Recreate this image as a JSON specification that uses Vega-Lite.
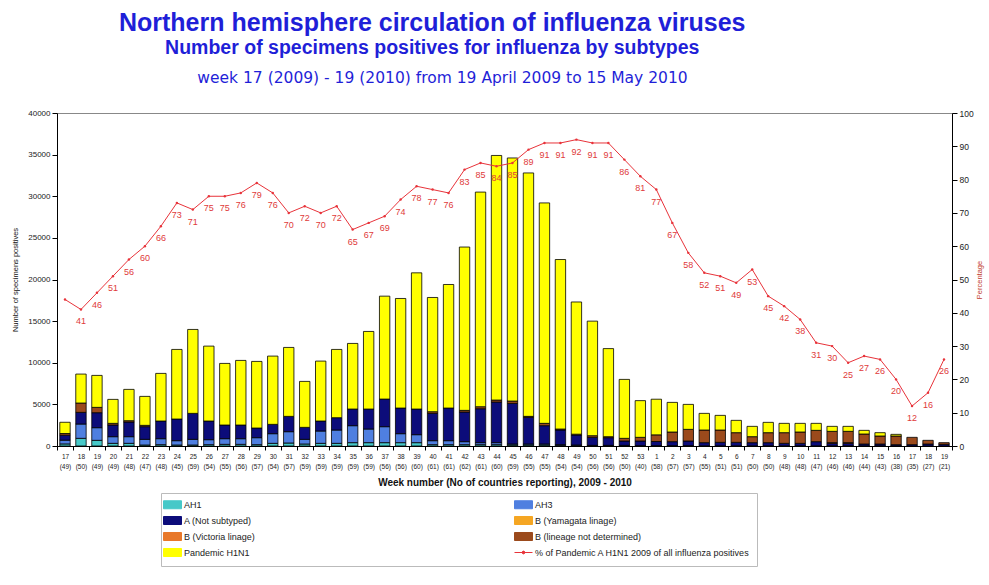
{
  "$schema": "https://vega.github.io/schema/vega-lite/v6.json",
  "background": "white",
  "padding": {"left": 11, "top": 10, "right": 5, "bottom": 5},
  "title": {
    "text": "Northern hemisphere circulation of influenza viruses",
    "subtitle": "Number of specimens positives for influenza by subtypes",
    "font": "Liberation Sans", "fontSize": 25, "fontWeight": "bold", "color": "#1f1fd8",
    "subtitleFont": "Liberation Sans", "subtitleFontSize": 19.5, "subtitleFontWeight": "bold", "subtitleColor": "#1f1fd8",
    "anchor": "middle", "dx": -65, "subtitlePadding": 3, "offset": 13
  },
  "vconcat": [
    {
      "title": {
        "text": "week 17 (2009) - 19 (2010) from 19 April 2009 to 15 May 2010",
        "font": "DejaVu Sans", "fontSize": 15.5, "fontWeight": "normal", "color": "#1f1fd8",
        "anchor": "middle", "dx": -62, "offset": 23
      },
      "width": 895,
      "height": 333,
      "data": {
        "values": [
          {"w": "17|(49)", "AH1": 250, "AH3": 450, "Anot": 600, "B1yam": 0, "B2vic": 0, "B3nd": 200, "Pand": 1350, "pct": 44},
          {"w": "18|(50)", "AH1": 920, "AH3": 1720, "Anot": 1400, "B1yam": 0, "B2vic": 0, "B3nd": 1120, "Pand": 3480, "pct": 41},
          {"w": "19|(49)", "AH1": 680, "AH3": 1520, "Anot": 1800, "B1yam": 0, "B2vic": 0, "B3nd": 640, "Pand": 3840, "pct": 46},
          {"w": "20|(49)", "AH1": 320, "AH3": 800, "Anot": 1400, "B1yam": 0, "B2vic": 0, "B3nd": 200, "Pand": 2880, "pct": 51},
          {"w": "21|(48)", "AH1": 320, "AH3": 800, "Anot": 1760, "B1yam": 0, "B2vic": 0, "B3nd": 160, "Pand": 3760, "pct": 56},
          {"w": "22|(47)", "AH1": 120, "AH3": 680, "Anot": 1520, "B1yam": 0, "B2vic": 0, "B3nd": 160, "Pand": 3480, "pct": 60},
          {"w": "23|(48)", "AH1": 160, "AH3": 720, "Anot": 2120, "B1yam": 0, "B2vic": 0, "B3nd": 0, "Pand": 5720, "pct": 66},
          {"w": "24|(45)", "AH1": 120, "AH3": 520, "Anot": 2600, "B1yam": 0, "B2vic": 0, "B3nd": 0, "Pand": 8360, "pct": 73},
          {"w": "25|(59)", "AH1": 120, "AH3": 680, "Anot": 3120, "B1yam": 0, "B2vic": 0, "B3nd": 0, "Pand": 10080, "pct": 71},
          {"w": "26|(54)", "AH1": 160, "AH3": 600, "Anot": 2240, "B1yam": 0, "B2vic": 0, "B3nd": 0, "Pand": 9000, "pct": 75},
          {"w": "27|(55)", "AH1": 200, "AH3": 680, "Anot": 1640, "B1yam": 0, "B2vic": 0, "B3nd": 0, "Pand": 7400, "pct": 75},
          {"w": "28|(56)", "AH1": 200, "AH3": 680, "Anot": 1640, "B1yam": 0, "B2vic": 0, "B3nd": 0, "Pand": 7760, "pct": 76},
          {"w": "29|(57)", "AH1": 160, "AH3": 840, "Anot": 1160, "B1yam": 0, "B2vic": 0, "B3nd": 0, "Pand": 8000, "pct": 79},
          {"w": "30|(54)", "AH1": 320, "AH3": 1160, "Anot": 1120, "B1yam": 0, "B2vic": 0, "B3nd": 0, "Pand": 8200, "pct": 76},
          {"w": "31|(57)", "AH1": 360, "AH3": 1360, "Anot": 1840, "B1yam": 0, "B2vic": 0, "B3nd": 0, "Pand": 8280, "pct": 70},
          {"w": "32|(59)", "AH1": 240, "AH3": 560, "Anot": 1440, "B1yam": 0, "B2vic": 0, "B3nd": 0, "Pand": 5520, "pct": 72},
          {"w": "33|(59)", "AH1": 320, "AH3": 1480, "Anot": 1200, "B1yam": 0, "B2vic": 0, "B3nd": 0, "Pand": 7200, "pct": 70},
          {"w": "34|(59)", "AH1": 320, "AH3": 1600, "Anot": 1480, "B1yam": 0, "B2vic": 0, "B3nd": 0, "Pand": 8200, "pct": 72},
          {"w": "35|(59)", "AH1": 400, "AH3": 2040, "Anot": 2000, "B1yam": 0, "B2vic": 0, "B3nd": 0, "Pand": 7880, "pct": 65},
          {"w": "36|(59)", "AH1": 400, "AH3": 1640, "Anot": 2400, "B1yam": 0, "B2vic": 0, "B3nd": 0, "Pand": 9320, "pct": 67},
          {"w": "37|(56)", "AH1": 400, "AH3": 1920, "Anot": 3320, "B1yam": 0, "B2vic": 0, "B3nd": 0, "Pand": 12360, "pct": 69},
          {"w": "38|(56)", "AH1": 400, "AH3": 1080, "Anot": 3080, "B1yam": 0, "B2vic": 0, "B3nd": 0, "Pand": 13160, "pct": 74},
          {"w": "39|(60)", "AH1": 400, "AH3": 960, "Anot": 3080, "B1yam": 0, "B2vic": 0, "B3nd": 0, "Pand": 16360, "pct": 78},
          {"w": "40|(61)", "AH1": 160, "AH3": 480, "Anot": 3280, "B1yam": 0, "B2vic": 0, "B3nd": 200, "Pand": 13720, "pct": 77},
          {"w": "41|(61)", "AH1": 160, "AH3": 480, "Anot": 3920, "B1yam": 0, "B2vic": 0, "B3nd": 0, "Pand": 14840, "pct": 76},
          {"w": "42|(62)", "AH1": 160, "AH3": 360, "Anot": 3560, "B1yam": 0, "B2vic": 0, "B3nd": 200, "Pand": 19620, "pct": 83},
          {"w": "43|(61)", "AH1": 160, "AH3": 240, "Anot": 4080, "B1yam": 0, "B2vic": 0, "B3nd": 240, "Pand": 25780, "pct": 85},
          {"w": "44|(60)", "AH1": 160, "AH3": 240, "Anot": 4880, "B1yam": 0, "B2vic": 0, "B3nd": 240, "Pand": 29380, "pct": 84},
          {"w": "45|(59)", "AH1": 120, "AH3": 120, "Anot": 4880, "B1yam": 0, "B2vic": 0, "B3nd": 280, "Pand": 29200, "pct": 85},
          {"w": "46|(55)", "AH1": 120, "AH3": 120, "Anot": 3200, "B1yam": 0, "B2vic": 0, "B3nd": 120, "Pand": 29240, "pct": 89},
          {"w": "47|(55)", "AH1": 120, "AH3": 120, "Anot": 2200, "B1yam": 0, "B2vic": 0, "B3nd": 280, "Pand": 26480, "pct": 91},
          {"w": "48|(54)", "AH1": 80, "AH3": 80, "Anot": 1760, "B1yam": 0, "B2vic": 0, "B3nd": 120, "Pand": 20360, "pct": 91},
          {"w": "49|(54)", "AH1": 40, "AH3": 80, "Anot": 1200, "B1yam": 0, "B2vic": 0, "B3nd": 100, "Pand": 15880, "pct": 92},
          {"w": "50|(56)", "AH1": 40, "AH3": 40, "Anot": 960, "B1yam": 0, "B2vic": 0, "B3nd": 200, "Pand": 13760, "pct": 91},
          {"w": "51|(56)", "AH1": 40, "AH3": 40, "Anot": 920, "B1yam": 0, "B2vic": 0, "B3nd": 120, "Pand": 10580, "pct": 91},
          {"w": "52|(50)", "AH1": 40, "AH3": 40, "Anot": 520, "B1yam": 0, "B2vic": 0, "B3nd": 320, "Pand": 7080, "pct": 86},
          {"w": "53|(40)", "AH1": 20, "AH3": 20, "Anot": 560, "B1yam": 0, "B2vic": 0, "B3nd": 440, "Pand": 4410, "pct": 81},
          {"w": "1|(58)", "AH1": 20, "AH3": 20, "Anot": 500, "B1yam": 0, "B2vic": 0, "B3nd": 800, "Pand": 4280, "pct": 77},
          {"w": "2|(57)", "AH1": 20, "AH3": 20, "Anot": 480, "B1yam": 0, "B2vic": 0, "B3nd": 1160, "Pand": 3560, "pct": 67},
          {"w": "3|(57)", "AH1": 20, "AH3": 20, "Anot": 560, "B1yam": 0, "B2vic": 0, "B3nd": 1400, "Pand": 3000, "pct": 58},
          {"w": "4|(55)", "AH1": 10, "AH3": 10, "Anot": 380, "B1yam": 0, "B2vic": 0, "B3nd": 1520, "Pand": 2000, "pct": 52},
          {"w": "5|(51)", "AH1": 10, "AH3": 10, "Anot": 420, "B1yam": 0, "B2vic": 0, "B3nd": 1480, "Pand": 1760, "pct": 51},
          {"w": "6|(51)", "AH1": 10, "AH3": 10, "Anot": 420, "B1yam": 0, "B2vic": 0, "B3nd": 1160, "Pand": 1480, "pct": 49},
          {"w": "7|(50)", "AH1": 10, "AH3": 10, "Anot": 380, "B1yam": 0, "B2vic": 0, "B3nd": 720, "Pand": 1240, "pct": 53},
          {"w": "8|(50)", "AH1": 10, "AH3": 10, "Anot": 380, "B1yam": 0, "B2vic": 0, "B3nd": 1200, "Pand": 1240, "pct": 45},
          {"w": "9|(48)", "AH1": 10, "AH3": 10, "Anot": 300, "B1yam": 0, "B2vic": 0, "B3nd": 1280, "Pand": 1120, "pct": 42},
          {"w": "10|(48)", "AH1": 10, "AH3": 10, "Anot": 300, "B1yam": 0, "B2vic": 0, "B3nd": 1360, "Pand": 1040, "pct": 38},
          {"w": "11|(47)", "AH1": 10, "AH3": 10, "Anot": 500, "B1yam": 0, "B2vic": 0, "B3nd": 1360, "Pand": 840, "pct": 31},
          {"w": "12|(46)", "AH1": 10, "AH3": 10, "Anot": 300, "B1yam": 0, "B2vic": 80, "B3nd": 1360, "Pand": 600, "pct": 30},
          {"w": "13|(46)", "AH1": 10, "AH3": 10, "Anot": 300, "B1yam": 0, "B2vic": 80, "B3nd": 1360, "Pand": 600, "pct": 25},
          {"w": "14|(44)", "AH1": 10, "AH3": 10, "Anot": 220, "B1yam": 0, "B2vic": 0, "B3nd": 1200, "Pand": 440, "pct": 27},
          {"w": "15|(43)", "AH1": 10, "AH3": 10, "Anot": 220, "B1yam": 0, "B2vic": 0, "B3nd": 960, "Pand": 400, "pct": 26},
          {"w": "16|(38)", "AH1": 10, "AH3": 10, "Anot": 140, "B1yam": 0, "B2vic": 0, "B3nd": 1040, "Pand": 200, "pct": 20},
          {"w": "17|(35)", "AH1": 0, "AH3": 0, "Anot": 160, "B1yam": 0, "B2vic": 0, "B3nd": 880, "Pand": 0, "pct": 12},
          {"w": "18|(27)", "AH1": 0, "AH3": 0, "Anot": 240, "B1yam": 0, "B2vic": 0, "B3nd": 440, "Pand": 0, "pct": 16},
          {"w": "19|(21)", "AH1": 0, "AH3": 0, "Anot": 200, "B1yam": 0, "B2vic": 0, "B3nd": 200, "Pand": 0, "pct": 26}
        ]
      },
      "layer": [
        {
          "transform": [
            {"fold": ["AH1", "AH3", "Anot", "B1yam", "B2vic", "B3nd", "Pand"], "as": ["subtype", "n"]},
            {"filter": "datum.n > 0"}
          ],
          "mark": {"type": "bar", "stroke": "black", "strokeWidth": 0.8, "width": {"band": 0.65}},
          "encoding": {
            "x": {
              "field": "w", "type": "ordinal", "sort": null,
              "scale": {"paddingInner": 0, "paddingOuter": 0},
              "axis": {
                "title": "Week number (No of countries reporting), 2009 - 2010",
                "labelExpr": "split(datum.label, '|')",
                "labelAngle": 0, "labelFontSize": 6.5, "labelLineHeight": 10,
                "labelOverlap": false, "labelPadding": 3,
                "tickBand": "extent", "tickSize": 4,
                "titleFontSize": 10, "titleFontWeight": "bold", "titlePadding": 8
              }
            },
            "y": {
              "field": "n", "type": "quantitative", "stack": "zero",
              "scale": {"domain": [0, 40000]},
              "axis": {
                "title": "Number of specimens positives",
                "values": [0, 5000, 10000, 15000, 20000, 25000, 30000, 35000, 40000],
                "format": "d", "labelFontSize": 8, "titleFontSize": 7.5,
                "titleFontWeight": "normal", "titlePadding": 8, "tickSize": 5
              }
            },
            "color": {
              "field": "subtype", "type": "nominal",
              "scale": {
                "domain": ["AH1", "AH3", "Anot", "B1yam", "B2vic", "B3nd", "Pand", "pct"],
                "range": ["#46c8c8", "#4f7fe0", "#0c0c7a", "#f5a623", "#e8782a", "#9b4a1c", "#ffff00", "#e8333a"]
              },
              "legend": {
                "orient": "none", "legendX": 104, "legendY": 380,
                "direction": "horizontal", "columns": 2, "title": null,
                "labelFont": "Liberation Sans", "labelFontSize": 9, "labelColor": "#222",
                "labelExpr": "{'AH1':'AH1','AH3':'AH3','Anot':'A (Not subtyped)','B1yam':'B (Yamagata linage)','B2vic':'B (Victoria linage)','B3nd':'B (lineage not determined)','Pand':'Pandemic  H1N1','pct':'% of Pandemic A H1N1 2009 of all influenza positives'}[datum.label]",
                "symbolType": "M-2.25,-1H2.25V1H-2.25Z", "symbolSize": 64, "symbolStrokeWidth": 1,
                "symbolStrokeColor": "black", "labelOffset": 7,
                "columnPadding": 257, "rowPadding": 3, "padding": 7, "strokeColor": "#bbbbbb",
                "labelLimit": 400,
                "encode": {
                  "symbols": {
                    "update": {
                      "shape": {"signal": "datum.value == 'pct' ? 'M-2.25,0H2.25M-0.35,0a0.35,0.35 0 1,0 0.7,0a0.35,0.35 0 1,0 -0.7,0' : 'M-2.25,-1H2.25V1H-2.25Z'"},
                      "stroke": {"signal": "datum.value == 'pct' ? '#e8333a' : 'black'"},
                      "strokeWidth": {"value": 1}
                    }
                  }
                }
              }
            },
            "order": {"field": "subtype", "sort": "ascending"}
          }
        },
        {
          "encoding": {
            "x": {"field": "w", "type": "ordinal", "sort": null},
            "y": {
              "field": "pct", "type": "quantitative",
              "scale": {"domain": [0, 100]},
              "axis": {
                "orient": "right", "title": "Percentage", "titleColor": "#c0392b",
                "values": [0, 10, 20, 30, 40, 50, 60, 70, 80, 90, 100],
                "labelFontSize": 8.5, "titleFontSize": 7.5, "titleFontWeight": "normal",
                "titleAngle": 270, "titlePadding": 10, "tickSize": 5
              }
            }
          },
          "layer": [
            {
              "mark": {"type": "line", "strokeWidth": 1, "point": {"filled": true, "size": 6}},
              "encoding": {"color": {"datum": "pct", "type": "nominal"}}
            },
            {
              "transform": [{"filter": "datum.w != '17|(49)'"}],
              "mark": {"type": "text", "color": "#e03a3a", "fontSize": 9, "dy": 12, "font": "Liberation Sans"},
              "encoding": {"text": {"field": "pct", "type": "quantitative"}}
            }
          ]
        }
      ],
      "resolve": {"scale": {"y": "independent"}}
    }
  ],
  "config": {
    "view": {"stroke": "#888888"},
    "axis": {
      "domainColor": "black", "tickColor": "black", "labelColor": "#222222", "grid": false,
      "labelFont": "Liberation Sans", "titleFont": "Liberation Sans", "titleColor": "#111111"
    }
  }
}
